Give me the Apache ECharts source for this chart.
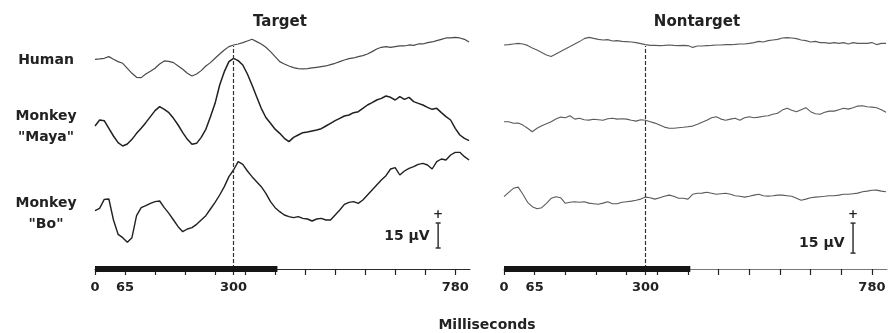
<!DOCTYPE html>
<html><head><meta charset="utf-8">
<script src="https://cdn.jsdelivr.net/npm/echarts/dist/echarts.min.js"></script>
<style>html,body{margin:0;padding:0;background:#fff;}#chart{width:889px;height:333px;}</style>
</head><body><div id="chart"></div>
<script>
// ---- data (time in ms, amplitude in µV relative to each trace's pre-stimulus level) ----
const times = [0,10,20,30,40,50,60,70,80,90,100,110,120,130,140,150,160,170,180,190,
  200,210,220,230,240,250,260,270,280,290,300,310,320,330,340,350,360,370,380,390,
  400,410,420,430,440,450,460,470,480,490,500,510,520,530,540,550,560,570,580,590,
  600,610,620,630,640,650,660,670,680,690,700,710,720,730,740,750,760,770,780,790,800,810];

const targetHuman = [0,0.2,0.6,1.6,0,-1.4,-2.4,-5.4,-8.4,-10.8,
  -11,-8.8,-7.2,-5.4,-2.8,-1,-1.2,-2,-4,-6,
  -8.4,-10,-8.8,-6.8,-4,-2,0.6,3.2,5.6,7.6,
  8.6,9.2,10,11,12,10.6,9.2,7.2,4.6,1.6,
  -1.4,-2.8,-4,-5,-5.6,-5.8,-5.6,-5.2,-4.8,-4.4,
  -4,-3.2,-2.4,-1.4,-0.4,0.4,0.8,1.6,2.2,3.2,
  4.6,6.2,7.2,7.6,7.2,7.6,8,8,8.6,8.4,
  9.2,9.2,10,10.4,11.2,12,12.8,12.8,13.2,12.8,
  12,10.4];
const targetMaya = [-0.6,3,2.6,-2,-6.6,-10.6,-12.6,-11.4,-8.6,-5,
  -2,1.4,5,8.6,11,9.4,7.4,4,0,-4.6,
  -8.6,-11.6,-11,-7.4,-2.6,5,13,24,32,38,
  40,38.6,36,30.6,24,17,10,4.5,1,-2.5,
  -5,-8,-10,-7.4,-6,-4.6,-4.2,-3.6,-3,-2.2,
  -0.6,1,2.6,4,5.4,6,7.4,8,10,12,
  13.4,15,16,17.4,16.6,15,17,15.4,16.6,14,
  13,12,10.6,9.4,10,7.4,5,3,-2,-6,
  -8,-9.4];
const targetBo = [-0.4,1,6.4,6.6,-6,-14.6,-16.6,-19.4,-16.6,-3.4,
  1.4,2.6,4,5,5.4,1.4,-2,-6,-10,-13,
  -11.4,-10.6,-8.6,-6,-3.4,0.6,4.6,9,14,20,
  24,29,27.4,23.4,20,17,14,10,5,1.4,
  -1,-3,-4,-4.6,-4,-5,-5.4,-6.6,-5.4,-5,
  -6,-6,-3,0,3.4,4.6,5,4,6,9,
  12,15,18,20.6,24.6,25.4,21,23.4,25,26,
  27.4,28,27,24.6,29,30.6,30,33,34.6,34.6,
  32,30];
const nontargetHuman = [0,0.2,0.5,0.8,0.5,-0.2,-1.5,-2.5,-3.8,-5,
  -5.8,-4.5,-3.2,-2,-0.8,0.5,1.7,3.2,3.8,3.3,
  2.8,2.5,2.7,2,2.2,1.8,1.7,1.5,1.2,0.7,
  0.2,-0.2,-0.2,-0.3,-0.2,0,-0.2,-0.3,-0.2,-0.3,
  -1.2,-0.5,-0.5,-0.3,-0.2,0,0,0.2,0.2,0.3,
  0.5,0.5,0.8,1.2,1.8,1.5,2.2,2.5,2.8,3.5,
  3.7,3.5,3.2,2.5,2.2,1.5,1.8,1.2,1.2,0.8,
  1.2,0.8,1.2,0.5,1.2,0.8,0.8,0.8,1.2,0.2,
  0.8,0.8];
const nontargetMaya = [0,0,-0.8,-0.7,-1.7,-3.3,-5,-3.3,-2,-1,
  0,1.3,2.3,2,3,1.3,1.7,1,0.8,1.2,
  1,0.7,1.5,1.7,1.3,1.5,1.3,0.7,0.3,1,
  0.7,0,-0.7,-1.7,-2.7,-3.3,-3.3,-3,-2.8,-2.5,
  -2.2,-1.3,-0.3,0.7,2,2.5,1.3,0.7,1.3,1.7,
  0.7,2,2.5,2,2.3,2.7,3,3.7,4.2,5.8,
  6.7,5.7,5,6,7,5,4,3.7,4.7,5.3,
  5.3,6,6.7,6.3,7,7.8,8,7.5,7.3,7,
  6,4.7];
const nontargetBo = [-0.5,1.7,3.7,4.3,0.7,-3.3,-5.5,-6.5,-6,-3.8,
  -1.3,-0.5,-1,-3.8,-3.3,-3,-3.3,-3,-3.7,-4,
  -4.3,-3.7,-3,-4,-4,-3.3,-3,-2.7,-2.3,-1.7,
  -0.7,-1,-1.7,-1,-0.3,0.3,-0.3,-1.3,-1.3,-1.7,
  0.7,1.2,1.3,1.7,1.2,0.7,1,1.2,0.7,0,
  -0.3,-0.7,-0.3,0.3,0.7,0,-0.2,0,0.3,0.3,
  0,-0.3,-1.3,-2.3,-1.7,-1,-0.7,-0.5,-0.3,0,
  0,0.3,0.7,0.7,1,1.3,2,2.3,2.7,2.8,
  2.3,2];

const tickValues = [0,65,130,195,260,325,390,455,520,585,650,715,780,300];
const tickLabels = [0,65,300,780];
const stimulusTimes = [0,395];
const markerTime = 300;
const scaleBarUV = 15;
const rowLabels = ['Human','Monkey\n"Maya"','Monkey\n"Bo"'];
const panelTitles = ['Target','Nontarget'];
const axisTitle = 'Milliseconds';

// ---- layout ----
const FONT = '"DejaVu Sans", "Liberation Sans", sans-serif';
const gridTop = 46, gridHeight = 223, xMax = 812;
const panels = [
  {title: panelTitles[0], traces:[targetHuman,targetMaya,targetBo], left:95, width:375,
   pxPerUV:25/15, baselines:[59.3,125,210], barTime:743, barBottom:-22.8, barLabelDy:-12,
   colors:['#4a4a4a','#202020','#202020'], widths:[1.2,1.5,1.4], axisColor:'#2a2a2a', titleX:280},
  {title: panelTitles[1], traces:[nontargetHuman,nontargetMaya,nontargetBo], left:504, width:383,
   pxPerUV:2, baselines:[45,121.7,195.7], barTime:740, barBottom:-28.7, barLabelDy:-10,
   colors:['#5a5a5a','#5a5a5a','#5a5a5a'], widths:[1.1,1.1,1.1], axisColor:'#777', titleX:697}
];

const grid = [], xAxis = [], yAxis = [], series = [];
panels.forEach((p, pi) => {
  grid.push({left:p.left, top:gridTop, width:p.width, height:gridHeight});
  xAxis.push({
    gridIndex:pi, type:'value', min:0, max:xMax, interval:65, position:'bottom',
    splitLine:{show:false},
    axisLine:{onZero:false, lineStyle:{color:p.axisColor, width:1}},
    axisTick:{customValues:tickValues, length:6, lineStyle:{color:'#222', width:1.2}},
    axisLabel:{customValues:tickLabels, margin:12, color:'#222', fontFamily:FONT, fontWeight:'bold', fontSize:13}
  });
  p.baselines.forEach((b) => {
    const max = (b - gridTop) / p.pxPerUV;
    yAxis.push({gridIndex:pi, type:'value', show:false, min:max - gridHeight / p.pxPerUV, max:max});
  });
  yAxis.push({gridIndex:pi, type:'value', show:false, min:0, max:1});
  const yBase = pi * 4;
  p.traces.forEach((vals, r) => {
    series.push({
      type:'line', xAxisIndex:pi, yAxisIndex:yBase + r, silent:true, clip:false,
      showSymbol:false, animation:false,
      lineStyle:{color:p.colors[r], width:p.widths[r]},
      data: times.map((t, i) => [t, vals[i]])
    });
  });
  // stimulus bar + 300 ms marker
  series.push({
    type:'line', xAxisIndex:pi, yAxisIndex:yBase + 3, silent:true, clip:false,
    showSymbol:false, animation:false, z:5,
    lineStyle:{color:'#151515', width:6},
    data: stimulusTimes.map(t => [t, 0]),
    markLine:{silent:true, symbol:['none','none'], animation:false, label:{show:false},
      lineStyle:{type:[4,2], color:'#333', width:1.2}, data:[{xAxis:markerTime}]}
  });
  // calibration bar
  series.push({
    type:'line', xAxisIndex:pi, yAxisIndex:yBase + 2, silent:true, clip:false,
    showSymbol:true, symbol:'rect', symbolSize:[5,1.5], animation:false,
    itemStyle:{color:'#333'}, lineStyle:{color:'#333', width:1.5},
    data:[
      {value:[p.barTime, p.barBottom], label:{show:true, position:'left', distance:6,
        offset:[0, p.barLabelDy], formatter: scaleBarUV + ' µV', color:'#222',
        fontFamily:FONT, fontWeight:'bold', fontSize:14}},
      {value:[p.barTime, p.barBottom + scaleBarUV], label:{show:true, position:'top', distance:1,
        formatter:'+', color:'#222', fontFamily:FONT, fontWeight:'bold', fontSize:12}}
    ]
  });
});

const graphic = [];
panels.forEach(p => graphic.push({type:'text', x:p.titleX, y:22, silent:true,
  style:{text:p.title, textAlign:'center', textVerticalAlign:'middle', fill:'#222', font:'bold 15px ' + FONT}}));
const labelY = [60, 126.5, 214];
rowLabels.forEach((t, i) => graphic.push({type:'text', x:46, y:labelY[i], silent:true,
  style:{text:t, textAlign:'center', textVerticalAlign:'middle', fill:'#222', lineHeight:21, font:'bold 14px ' + FONT}}));
graphic.push({type:'text', x:487, y:325, silent:true,
  style:{text:axisTitle, textAlign:'center', textVerticalAlign:'middle', fill:'#222', font:'bold 14px ' + FONT}});

const chart = echarts.init(document.getElementById('chart'), null, {renderer:'canvas'});
chart.setOption({animation:false, backgroundColor:'#fff', grid, xAxis, yAxis, series, graphic});
</script></body></html>
